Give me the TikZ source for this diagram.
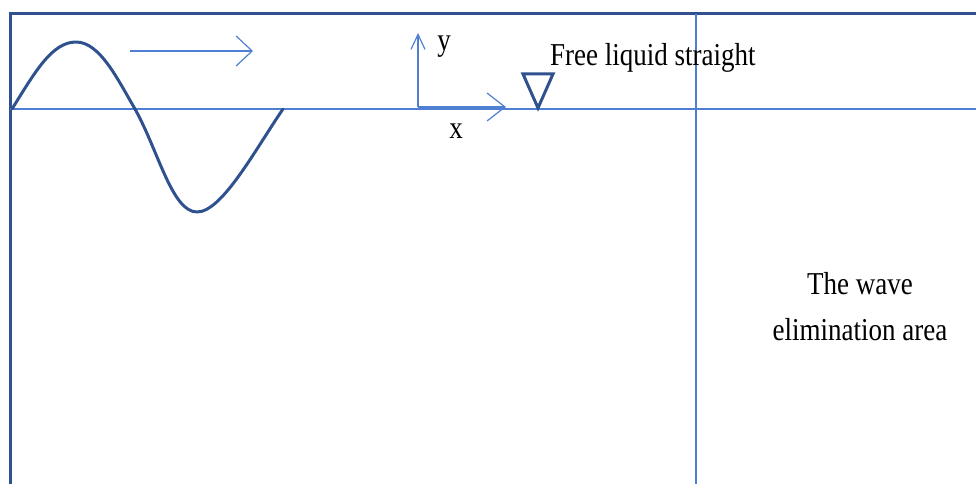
\documentclass[tikz,border=0pt]{standalone}
\usepackage{fontspec}
\usepackage{graphicx}
\setmainfont{Liberation Serif}
\usetikzlibrary{arrows.meta}
\definecolor{framec}{HTML}{2F528F}
\definecolor{thinc}{HTML}{4F7FD2}
\newcommand{\tallt}[1]{\scalebox{1}[1.18]{#1}}
\begin{document}
\begin{tikzpicture}[x=1pt,y=-1pt,
  frameline/.style={draw=framec,line width=3pt},
  thinline/.style={draw=thinc,line width=1.2pt},
  wave/.style={draw=framec,line width=3pt,line cap=round,line join=round},
  lbl/.style={inner sep=0pt,font=\fontsize{27}{40}\selectfont,text=black}]
\useasboundingbox (0,0) rectangle (976,484);
% frame
\coordinate (tl) at (10,14);
\coordinate (tr) at (976,14);
\coordinate (bl) at (10,484);
\draw[frameline] (tr) -- (tl) -- (bl);
% water line and divider
\coordinate (wl) at (10,109);
\coordinate (wr) at (976,109);
\draw[thinline] (wl) -- (wr);
\coordinate (vt) at (696,14);
\coordinate (vb) at (696,484);
\draw[thinline] (vt) -- (vb);
% sine wave
\draw[wave] (12,109) .. controls (35,72) and (52,42) .. (76,42)
  .. controls (100,42) and (118,80) .. (135,109)
  .. controls (158,150) and (172,212) .. (197,212)
  .. controls (222,212) and (255,150) .. (283,109);
% propagation arrow
\coordinate (pa) at (130,51);
\coordinate (pb) at (253,51);
\draw[thinline,-{Straight Barb[length=16pt,width=30pt,line width=1.2pt]}] (pa) -- (pb);
% axes
\coordinate (o) at (418,107);
\coordinate (ytip) at (418,33);
\coordinate (xtip) at (506,107);
\draw[thinline,-{Straight Barb[length=15pt,width=14pt,line width=1.2pt]}] (o) -- (ytip);
\draw[thinline,line width=2pt,-{Straight Barb[length=18pt,width=28pt,line width=1.2pt]}] (o) -- (xtip);
\node[lbl] (ylab) at (444,47) {\tallt{y}};
\node[lbl] (xlab) at (456,131) {\tallt{x}};
% free surface triangle
\coordinate (t1) at (523,74);
\coordinate (t2) at (553,74);
\coordinate (t3) at (538,108);
\draw[wave,line cap=butt,line join=miter] (t1) -- (t2) -- (t3) -- cycle;
\node[lbl,anchor=west] (free) at (550,58) {\tallt{Free liquid straight}};
% wave elimination area
\node[lbl,align=center] (area) at (860,307) {\tallt{The wave}\\[6pt]\tallt{elimination area}};
\end{tikzpicture}
\end{document}
